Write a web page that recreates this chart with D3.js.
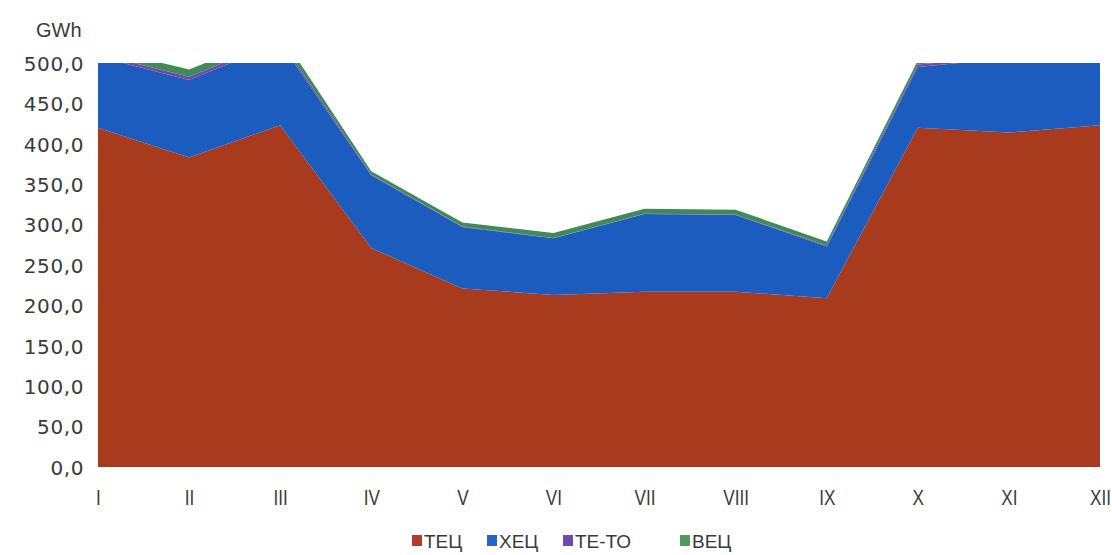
<!DOCTYPE html>
<html><head><meta charset="utf-8">
<script src="https://cdn.jsdelivr.net/npm/d3@7/dist/d3.min.js"></script>
<style>
body{margin:0;background:#fff;}
svg{display:block;}
</style></head>
<body>
<svg id="chart" width="1112" height="555"></svg>
<script>
const months = ["I","II","III","IV","V","VI","VII","VIII","IX","X","XI","XII"];
const seriesNames = ["ТЕЦ","ХЕЦ","ТЕ-ТО","ВЕЦ"];
const tec   = [420, 383, 423, 271, 221, 213, 217, 217, 209, 420, 414, 423];
const hec   = [ 88,  96, 102,  90,  76,  70,  96,  95,  64,  75,  92,  90];
const teto  = [  3,   4,   4,   1, 0.5, 0.5, 0.5, 0.5,   1,   3,   3,   3];
const vec   = [  8,   9,   8,   4,   5,   6,   6,   6,   5,   5,   6,   6];
const yTicks = [0,50,100,150,200,250,300,350,400,450,500];
const colors = ["#a83a1d","#1d5cbf","#7448a6","#3f8a58"];
const legendColors = ["#b03a2e","#2a63c6","#6c4cae","#4f9a60"];

(function(){
const table = months.map((m,i)=>({month:m,"ТЕЦ":tec[i],"ХЕЦ":hec[i],"ТЕ-ТО":teto[i],"ВЕЦ":vec[i]}));

const svg = d3.select("#chart");
const pLeft = 98, pRight = 1100, pTop = 63, pBottom = 467;
const x = d3.scalePoint().domain(months).range([pLeft,pRight]);
const y = d3.scaleLinear().domain([0,500]).range([pBottom,pTop]);

svg.append("defs").append("clipPath").attr("id","clip")
  .append("rect").attr("x",pLeft).attr("y",pTop).attr("width",pRight-pLeft).attr("height",pBottom-pTop);

const stack = d3.stack().keys(seriesNames)(table);
const area = d3.area().x(d=>x(d.data.month)).y0(d=>y(d[0])).y1(d=>y(d[1]));

const g = svg.append("g").attr("clip-path","url(#clip)");
g.selectAll("path.a").data(stack).join("path")
  .attr("class","a")
  .attr("d",area)
  .attr("fill",(d,i)=>colors[i]);

const fmt = v => d3.format(".1f")(v).replace(".",",");
const yAxis = d3.axisLeft(y).tickValues(yTicks).tickFormat(fmt).tickSize(0).tickPadding(0);
const ya = svg.append("g").attr("transform",`translate(${pLeft-14},0)`).call(yAxis);
ya.select(".domain").remove();
ya.selectAll("text").attr("font-family","'DejaVu Sans', sans-serif").attr("font-size","20px")
  .attr("fill","#3a3a3a").attr("dy","0.36em").attr("letter-spacing","0.6px");

const xAxis = d3.axisBottom(x).tickSize(0).tickPadding(0);
const xa = svg.append("g").attr("transform",`translate(0,${pBottom+22})`).call(xAxis);
xa.select(".domain").remove();
xa.selectAll("text").attr("font-family","'Liberation Sans',Arial,sans-serif")
  .attr("font-size","22px").attr("fill","#3a3a3a").attr("transform","scale(0.78,1)");

svg.append("text").attr("x",36).attr("y",37).text("GWh")
  .attr("font-family","'Liberation Sans',Arial,sans-serif").attr("font-size","20px").attr("fill","#3a3a3a");

const legendX = [412, 487, 563, 680];
const lg = svg.append("g");
seriesNames.forEach((n,i)=>{
  lg.append("rect").attr("x",legendX[i]).attr("y",535).attr("width",10).attr("height",11).attr("fill",legendColors[i]);
  lg.append("text").attr("x",legendX[i]+12).attr("y",548).text(n)
    .attr("font-family","'Liberation Sans',Arial,sans-serif").attr("font-size","19px").attr("fill","#3a3a3a");
});
})();
</script>
</body></html>
